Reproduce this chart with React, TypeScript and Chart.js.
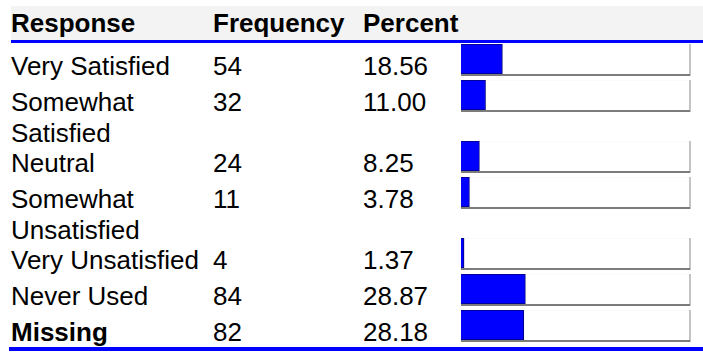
import React, { useEffect, useRef } from "react";
import { Chart, registerables } from "chart.js";

Chart.register(...registerables);

const HEADERS = ["Response", "Frequency", "Percent"];
const RESPONSES = [
  "Very Satisfied",
  "Somewhat Satisfied",
  "Neutral",
  "Somewhat Unsatisfied",
  "Very Unsatisfied",
  "Never Used",
  "Missing",
];
const FREQUENCIES = [54, 32, 24, 11, 4, 84, 82];
const PERCENTS = [18.56, 11.0, 8.25, 3.78, 1.37, 28.87, 28.18];
const BOLD_RESPONSES = ["Missing"];
const PERCENT_MAX = 100;

const FONT = "'Liberation Sans', Arial, Helvetica, sans-serif";
const BLUE = "#0000ff";

// Draws the white track with its grey bottom and right edges behind each bar.
const trackFrame = {
  id: "trackFrame",
  beforeDraw(chart: any) {
    const { ctx, width, height } = chart;
    ctx.save();
    ctx.fillStyle = "#ffffff";
    ctx.fillRect(0, 0, width, height);
    ctx.fillStyle = "#fbfbfb";
    ctx.fillRect(0, 0, width - 3, 1);
    ctx.fillStyle = "#c4c4c4";
    ctx.fillRect(width - 3, 0, 2, height);
    ctx.fillStyle = "#7c7c7c";
    ctx.fillRect(0, height - 2, width - 2, 2);
    ctx.restore();
  },
};

function PercentBar({ value }: { value: number }) {
  const ref = useRef<HTMLCanvasElement | null>(null);
  useEffect(() => {
    if (!ref.current) return;
    const chart = new Chart(ref.current, {
      type: "bar",
      data: {
        labels: [""],
        datasets: [
          {
            data: [value],
            backgroundColor: BLUE,
            borderColor: "#00007a",
            borderWidth: 1,
            borderSkipped: "start",
            barPercentage: 1,
            categoryPercentage: 1,
          },
        ],
      },
      options: {
        indexAxis: "y",
        responsive: false,
        animation: false,
        devicePixelRatio: 1,
        layout: { padding: { top: 0, left: 0, right: 8, bottom: 2 } },
        scales: {
          x: { display: false, min: 0, max: PERCENT_MAX },
          y: { display: false },
        },
        plugins: {
          legend: { display: false },
          tooltip: { enabled: false },
        },
      },
      plugins: [trackFrame],
    } as any);
    return () => chart.destroy();
  }, [value]);
  return <canvas ref={ref} width={231} height={32} style={{ display: "block" }} />;
}

const COLUMNS = "202px 150px 98px 231px 1fr";

const textCell: React.CSSProperties = {
  fontSize: "26px",
  lineHeight: "31px",
  paddingTop: "8px",
  marginBottom: "-9px",
  color: "#000",
};

export default function App() {
  useEffect(() => {
    document.body.style.margin = "0";
    document.body.style.overflow = "hidden";
    document.body.style.background = "#fff";
  }, []);

  return (
    <div
      style={{
        position: "absolute",
        left: 11,
        top: 6,
        width: 692,
        fontFamily: FONT,
      }}
    >
      <div
        style={{
          display: "grid",
          gridTemplateColumns: COLUMNS,
          background: "#f3f3f3",
          height: 34,
          lineHeight: "34px",
          fontSize: "26px",
          fontWeight: "bold",
          color: "#000",
        }}
      >
        {HEADERS.map((h) => (
          <div key={h} style={{ whiteSpace: "nowrap" }}>
            {h}
          </div>
        ))}
        <div />
        <div />
      </div>
      <div style={{ height: 3, background: BLUE }} />
      {RESPONSES.map((r, i) => (
        <div
          key={r}
          style={{ display: "grid", gridTemplateColumns: COLUMNS, alignItems: "start" }}
        >
          <div
            style={{
              ...textCell,
              fontWeight: BOLD_RESPONSES.includes(r) ? "bold" : "normal",
            }}
          >
            {r}
          </div>
          <div style={textCell}>{FREQUENCIES[i]}</div>
          <div style={textCell}>{PERCENTS[i].toFixed(2)}</div>
          <div style={{ marginTop: 1, marginBottom: 3 }}>
            <PercentBar value={PERCENTS[i]} />
          </div>
          <div />
        </div>
      ))}
      <div style={{ height: 2 }} />
      <div style={{ height: 4, background: BLUE, marginLeft: -2 }} />
    </div>
  );
}
